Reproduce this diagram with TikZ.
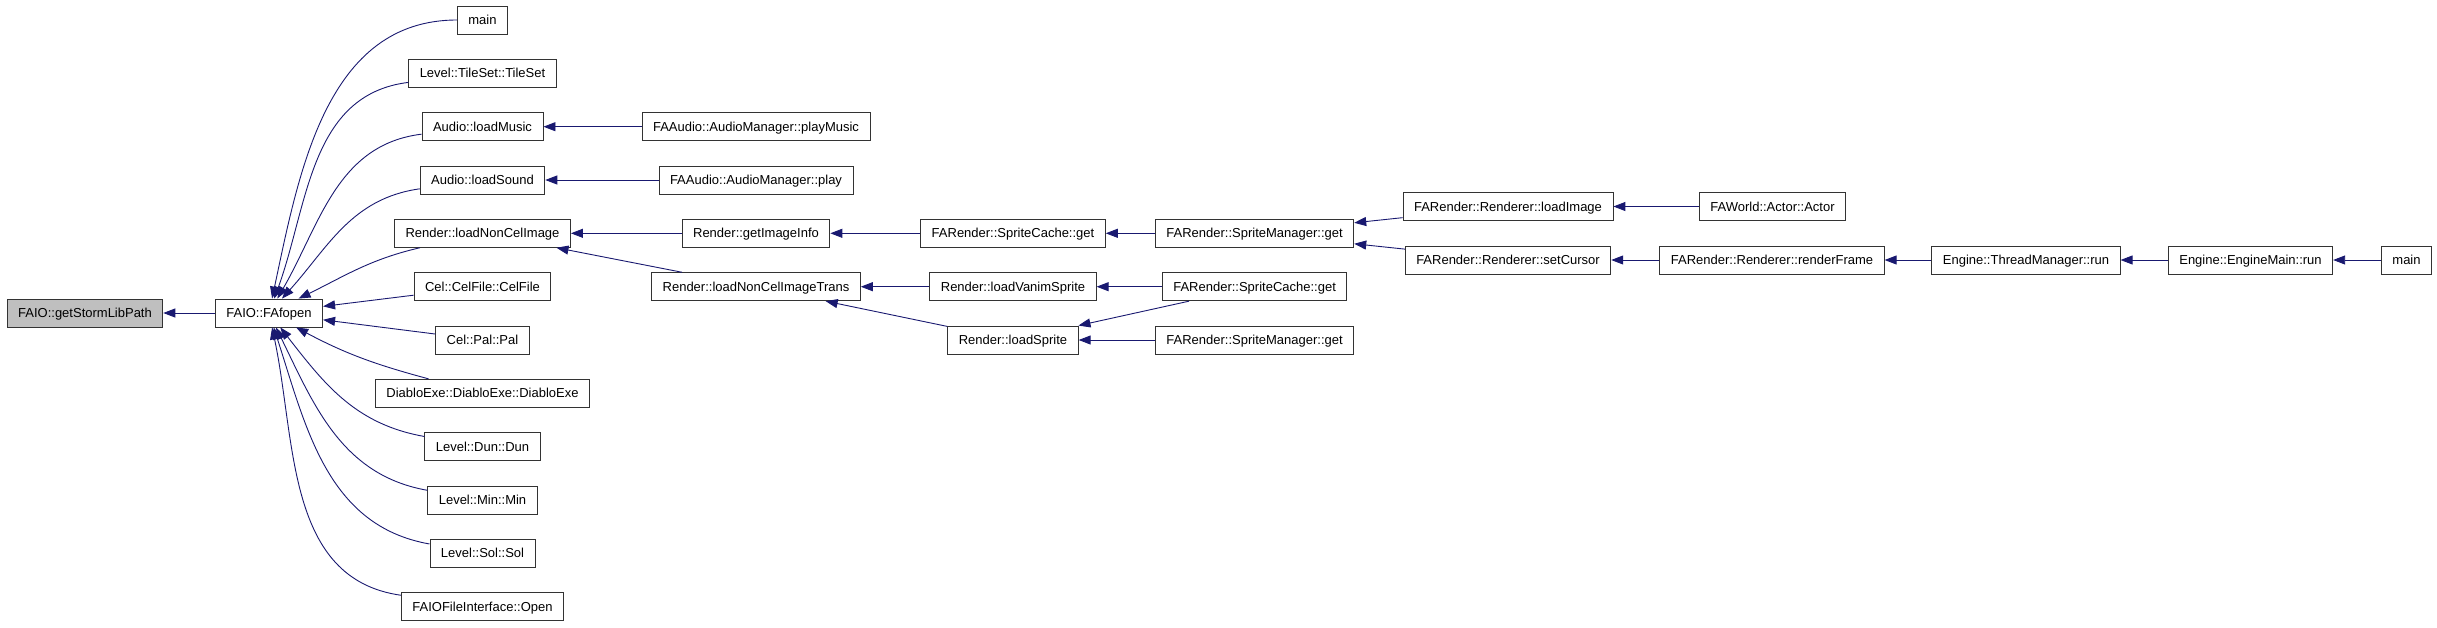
\documentclass[tikz,border=0pt]{standalone}
\usepackage{fontspec}
\setmainfont{Liberation Sans}
\usetikzlibrary{arrows.meta}
\definecolor{edgeblue}{HTML}{191970}
\definecolor{curgray}{HTML}{BFBFBF}

\begin{document}
\begin{tikzpicture}[x=1pt, y=-1pt,
		fn/.style={draw=black!80, line width=0.9pt, fill=white, minimum height=28pt, inner xsep=11pt, inner ysep=0pt, text height=9.3pt, text depth=0pt, font=\fontsize{13pt}{15pt}\selectfont},
		cur/.style={fn, fill=curgray},
		call/.style={edgeblue, line width=0.9pt, -{Triangle[length=12pt, width=9pt]}}]
					\useasboundingbox (0, 0) rectangle (2437, 627);
					\node[cur] (gslp) at (85, 313) {FAIO::getStormLibPath};
					\node[fn] (fop) at (269, 313) {FAIO::FAfopen};
					\node[fn] (mn) at (482.5, 20) {main};
					\node[fn] (ts) at (482.5, 73.3) {Level::TileSet::TileSet};
					\node[fn] (lm) at (482.5, 126.7) {Audio::loadMusic};
					\node[fn] (ls) at (482.5, 180) {Audio::loadSound};
					\node[fn] (nci) at (482.5, 233.3) {Render::loadNonCelImage};
					\node[fn] (cf) at (482.5, 286.7) {Cel::CelFile::CelFile};
					\node[fn] (pal) at (482.5, 340) {Cel::Pal::Pal};
					\node[fn] (dx) at (482.5, 393.3) {DiabloExe::DiabloExe::DiabloExe};
					\node[fn] (dun) at (482.5, 446.7) {Level::Dun::Dun};
					\node[fn] (lmin) at (482.5, 500) {Level::Min::Min};
					\node[fn] (sol) at (482.5, 553.3) {Level::Sol::Sol};
					\node[fn] (opn) at (482.5, 606.7) {FAIOFileInterface::Open};
					\node[fn] (pm) at (756, 126.7) {FAAudio::AudioManager::playMusic};
					\node[fn] (pl) at (756, 180) {FAAudio::AudioManager::play};
					\node[fn] (gii) at (756, 233.3) {Render::getImageInfo};
					\node[fn] (ncit) at (756, 286.7) {Render::loadNonCelImageTrans};
					\node[fn] (sc) at (1013, 233.3) {FARender::SpriteCache::get};
					\node[fn] (lvs) at (1013, 286.7) {Render::loadVanimSprite};
					\node[fn] (lsp) at (1013, 340) {Render::loadSprite};
					\node[fn] (sm) at (1254.6, 233.3) {FARender::SpriteManager::get};
					\node[fn] (sc2) at (1254.6, 286.7) {FARender::SpriteCache::get};
					\node[fn] (sm2) at (1254.6, 340) {FARender::SpriteManager::get};
					\node[fn] (li) at (1508, 206.5) {FARender::Renderer::loadImage};
					\node[fn] (scur) at (1508, 260) {FARender::Renderer::setCursor};
					\node[fn] (act) at (1772.5, 206.5) {FAWorld::Actor::Actor};
					\node[fn] (rf) at (1772, 260) {FARender::Renderer::renderFrame};
					\node[fn] (tm) at (2026, 260) {Engine::ThreadManager::run};
					\node[fn] (em) at (2250.5, 260) {Engine::EngineMain::run};
					\node[fn] (mn2) at (2406.5, 260) {main};
					\draw[call] (fop) -- (gslp);
					\draw[call] (mn) to[out=180, in=78] (fop);
					\draw[call] (ts) to[out=187, in=70] (fop);
					\draw[call] (lm) to[out=187, in=60] (fop);
					\draw[call] (ls) to[out=188, in=48] (fop);
					\draw[call] (nci) to[out=193, in=26] (fop);
					\draw[call] (cf) -- (fop);
					\draw[call] (pal) -- (fop);
					\draw[call] (dx) to[out=165, in=-28] (fop);
					\draw[call] (dun) to[out=170, in=-52] (fop);
					\draw[call] (lmin) to[out=170, in=-64] (fop);
					\draw[call] (sol) to[out=170, in=-72] (fop);
					\draw[call] (opn) to[out=172, in=-78] (fop);
					\draw[call] (pm) -- (lm);
					\draw[call] (pl) -- (ls);
					\draw[call] (gii) -- (nci);
					\draw[call] (ncit) -- (nci);
					\draw[call] (sc) -- (gii);
					\draw[call] (lvs) -- (ncit);
					\draw[call] (lsp) -- (ncit);
					\draw[call] (sm) -- (sc);
					\draw[call] (sc2) -- (lvs);
					\draw[call] (sc2) -- (lsp);
					\draw[call] (sm2) -- (lsp);
					\draw[call] (li) -- (sm);
					\draw[call] (scur) -- (sm);
					\draw[call] (act) -- (li);
					\draw[call] (rf) -- (scur);
					\draw[call] (tm) -- (rf);
					\draw[call] (em) -- (tm);
					\draw[call] (mn2) -- (em);
				\end{tikzpicture}
\end{document}
